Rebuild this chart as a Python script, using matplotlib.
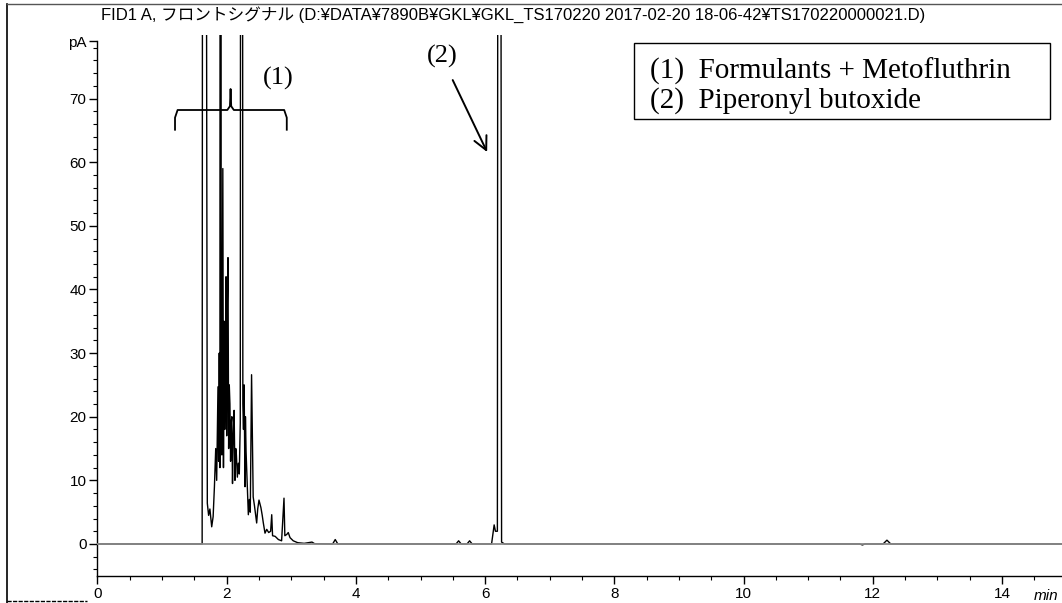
import numpy as np
import matplotlib
matplotlib.use("Agg")
import matplotlib.pyplot as plt
from matplotlib.ticker import MultipleLocator, FixedLocator
from matplotlib.lines import Line2D
from matplotlib.patches import Rectangle

# chromatogram trace (min, pA); 400 = off scale
ret_time = [0.0, 1.62, 1.64, 1.70, 1.72, 1.74, 1.768, 1.79, 1.81, 1.83, 1.845,
            1.865, 1.875, 1.885, 1.895, 1.905, 1.915, 1.925, 1.94, 1.95, 1.96,
            1.97, 1.98, 1.99, 2.0, 2.01, 2.02, 2.03, 2.04, 2.05, 2.06, 2.07,
            2.08, 2.09, 2.10, 2.115, 2.128, 2.14, 2.15, 2.165, 2.18, 2.195,
            2.21, 2.23, 2.25, 2.26, 2.27, 2.283, 2.29, 2.30, 2.31, 2.335, 2.35,
            2.365, 2.385, 2.41, 2.43, 2.464, 2.48, 2.50, 2.53, 2.55, 2.567,
            2.593, 2.62, 2.65, 2.68, 2.697, 2.71, 2.75, 2.80, 2.85, 2.887,
            2.90, 2.93, 2.953, 2.98, 3.03, 3.1, 3.2, 3.32, 3.36, 3.64, 3.68,
            3.72, 5.55, 5.59, 5.63, 5.72, 5.76, 5.80, 6.10, 6.14, 6.16, 6.19,
            6.215, 6.255, 6.30, 11.80, 11.84, 11.88, 12.16, 12.22, 12.28, 15.3]
signal_pa = [0, 0, 400, 6.4, 4.5, 5.5, 2.7, 4.3, 9, 15, 10,
             24.7, 13, 30, 12, 400, 16, 14, 59, 12, 35,
             18, 28, 42, 17, 38, 45, 15, 25, 22, 13, 19,
             20, 9.5, 16, 21, 10, 15, 14, 10.5, 12.7, 11,
             19, 400, 22, 18, 25, 9, 20, 14.5, 11.6, 4.6, 7,
             5, 26.6, 7.4, 6, 3.3, 5.5, 6.9, 5.7, 4.5, 3.3,
             1.7, 2.3, 1.8, 2.0, 4.6, 1.3, 1.2, 0.7, 0.5, 7.2,
             1.3, 1.5, 1.8, 1.0, 0.5, 0.2, 0.1, 0.3, 0.05, 0, 0.7,
             0, 0, 0.5, 0, 0, 0.5, 0, 0, 3.0, 2.0, 2.0,
             400, 0.3, 0, 0, -0.15, 0, 0, 0.6, 0, 0]

x_ticks = [0, 2, 4, 6, 8, 10, 12, 14]
y_ticks = [0, 10, 20, 30, 40, 50, 60, 70, 79]
y_labels = ['0', '10', '20', '30', '40', '50', '60', '70', 'pA']

title = ("FID1 A, フロントシグナル (D:¥DATA¥7890B¥GKL¥GKL_TS170220 "
         "2017-02-20 18-06-42¥TS170220000021.D)")
legend_lines = ["(1)  Formulants + Metofluthrin", "(2)  Piperonyl butoxide"]

fig = plt.figure(figsize=(10.62, 6.03), dpi=100)
ax = fig.add_axes([0.0918, 0.0451, 0.9082, 0.897])

ax.plot(ret_time, signal_pa, color='black', lw=1.0, zorder=2)
ax.axhline(0, color='#8a8a8a', lw=1.3, zorder=3)

ax.set_xlim(0, 14.93)
ax.set_ylim(-5, 80)
for s in ['top', 'right']:
    ax.spines[s].set_visible(False)
ax.spines['left'].set_bounds(-5, 79)
ax.spines['left'].set_linewidth(1.0)
ax.spines['bottom'].set_linewidth(1.0)

ax.xaxis.set_major_locator(FixedLocator(x_ticks))
ax.xaxis.set_minor_locator(MultipleLocator(0.5))
ax.yaxis.set_major_locator(FixedLocator(y_ticks))
ax.set_yticklabels(y_labels)
ax.yaxis.set_minor_locator(FixedLocator(np.arange(-4, 79, 2)))
ax.tick_params(axis='both', which='major', direction='out', length=6,
               width=1, labelsize=11, pad=2)
ax.tick_params(axis='both', which='minor', direction='out', length=3, width=0.8)
for lab in ax.get_xticklabels() + ax.get_yticklabels():
    lab.set_family('Liberation Sans')

ax.text(14.50, -7.0, 'min', fontsize=11, style='italic', ha='left', va='top',
        family='Liberation Sans', clip_on=False)

# brace over group (1)
bl, br, tip = 1.20, 2.93, 2.06
yh, ytip, yend = 68.2, 71.5, 65.1
bx = [bl, bl, bl + 0.04, tip - 0.05, tip - 0.01, tip, tip + 0.01, tip + 0.05, br - 0.04, br, br]
by = [yend, yh - 1.2, yh, yh, yh + 0.6, ytip, yh + 0.6, yh, yh, yh - 1.2, yend]
ax.plot(bx, by, color='black', lw=1.3)
ax.text(2.80, 73.2, '(1)', fontsize=19, family='Liberation Serif',
        ha='center', va='center')
ax.text(5.33, 76.6, '(2)', fontsize=19, family='Liberation Serif',
        ha='center', va='center')
ax.annotate('', xy=(6.05, 61.2), xytext=(5.48, 73.3),
            arrowprops=dict(arrowstyle='->', lw=1.4, color='black',
                            mutation_scale=24))

# legend box
fig.patches.append(Rectangle((0.597, 0.803), 0.392, 0.126, transform=fig.transFigure,
                             fill=False, edgecolor='black', lw=1.0))
fig.text(0.612, 0.882, legend_lines[0], fontsize=21, family='Liberation Serif',
         va='center', ha='left')
fig.text(0.612, 0.834, legend_lines[1], fontsize=21, family='Liberation Serif',
         va='center', ha='left')

fig.text(0.0955, 0.976, title, fontsize=12, ha='left', va='center',
         family=['Liberation Sans', 'Noto Sans CJK JP'])

# page frame
fig.lines.append(Line2D([0.0065, 0.0065], [0.0, 0.993], transform=fig.transFigure,
                        color='black', lw=1.2))
fig.lines.append(Line2D([0.0065, 1.0], [0.993, 0.993], transform=fig.transFigure,
                        color='#555555', lw=1.0))
fig.lines.append(Line2D([0.0065, 0.082], [0.004, 0.004], transform=fig.transFigure,
                        color='black', lw=1.0, ls=(0, (3, 1))))

fig.savefig('out.png', dpi=100)
